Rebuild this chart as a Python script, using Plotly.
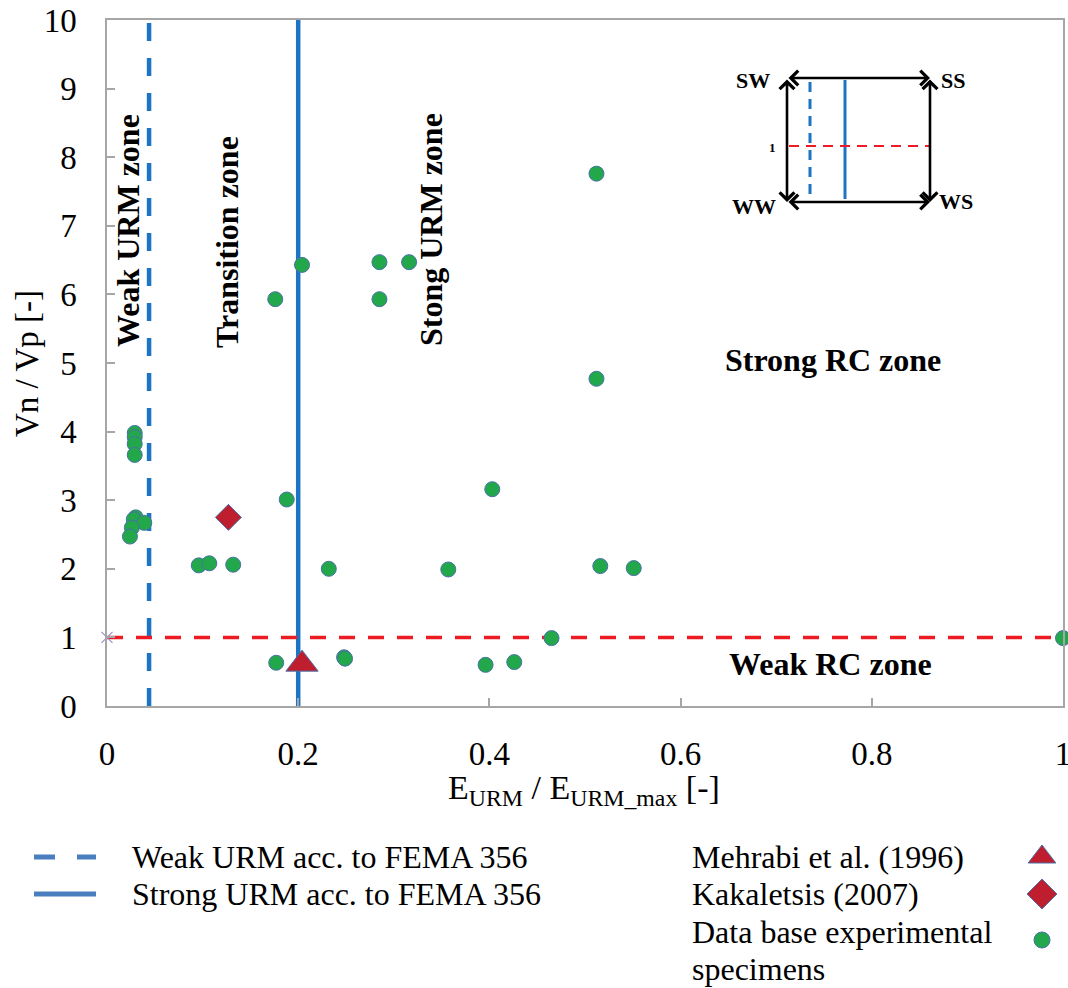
import plotly.graph_objects as go

W, H = 1068, 988
# plot area in pixels
PL, PR, PT, PB = 107, 1063, 20, 706

# ---------------- data ----------------
db_x = [0.029, 0.029, 0.029, 0.029, 0.030, 0.028, 0.039, 0.026, 0.024,
        0.096, 0.107, 0.132, 0.188, 0.177, 0.176, 0.204, 0.285, 0.285,
        0.316, 0.512, 0.512, 0.403, 0.232, 0.357, 0.516, 0.551, 0.465,
        0.248, 0.249, 0.396, 0.426, 1.000]
db_y = [3.98, 3.92, 3.82, 3.66, 2.75, 2.72, 2.67, 2.60, 2.47,
        2.05, 2.08, 2.06, 3.01, 0.63, 5.93, 6.43, 6.47, 5.93,
        6.47, 7.76, 4.77, 3.16, 2.00, 1.99, 2.04, 2.01, 0.99,
        0.71, 0.69, 0.60, 0.64, 0.99]
mehrabi_x = [0.204]
mehrabi_y = [0.61]
kakaletsis_x = [0.127]
kakaletsis_y = [2.75]
weak_urm_x = 0.044
strong_urm_x = 0.2
rc_ratio_y = 1.0
x_ticks = [0, 0.2, 0.4, 0.6, 0.8, 1]
x_tick_text = ["0", "0.2", "0.4", "0.6", "0.8", "1"]
y_ticks = list(range(0, 11))

SERIF = "Liberation Serif, Times New Roman, serif"
BLUE = "#1C75C4"
RED_DASH = "#ED1C24"
GREEN = "#22A84B"
DARKRED = "#BE1E2D"
OUTLINE = "#4A70A8"
AXIS_GRAY = "#A6A6A6"
LEG_BLUE = "#4A7EBF"

fig = go.Figure()

# reference lines
fig.add_trace(go.Scatter(x=[weak_urm_x, weak_urm_x], y=[0, 10], mode="lines",
                         line=dict(color=BLUE, width=4.5, dash="18px,17px"),
                         showlegend=False, hoverinfo="skip"))
fig.add_trace(go.Scatter(x=[strong_urm_x, strong_urm_x], y=[0, 10], mode="lines",
                         line=dict(color=BLUE, width=4.5),
                         showlegend=False, hoverinfo="skip"))
fig.add_trace(go.Scatter(x=[0, 1], y=[rc_ratio_y, rc_ratio_y], mode="lines",
                         line=dict(color=RED_DASH, width=3.5, dash="16px,13px"),
                         showlegend=False, hoverinfo="skip", cliponaxis=False))
fig.add_trace(go.Scatter(x=[0], y=[rc_ratio_y], mode="markers",
                         marker=dict(symbol="x-thin", size=11,
                                     line=dict(color="#9A8FC8", width=1.2)),
                         showlegend=False, cliponaxis=False))

# data
fig.add_trace(go.Scatter(x=db_x, y=db_y, mode="markers",
                         marker=dict(color=GREEN, size=15,
                                     line=dict(color=OUTLINE, width=1)),
                         name="Data base experimental specimens",
                         showlegend=False, cliponaxis=False))
fig.add_trace(go.Scatter(x=kakaletsis_x, y=kakaletsis_y, mode="markers",
                         marker=dict(color=DARKRED, size=20, symbol="diamond",
                                     line=dict(color=OUTLINE, width=1)),
                         name="Kakaletsis (2007)", showlegend=False))
fig.add_trace(go.Scatter(x=mehrabi_x, y=mehrabi_y, mode="markers",
                         marker=dict(color=DARKRED, size=28, symbol="triangle-up",
                                     line=dict(color=OUTLINE, width=1)),
                         name="Mehrabi et al. (1996)", showlegend=False,
                         cliponaxis=False))

# ---------- overlay pixel axes for legend + inset ----------
leg_marker_x = [1042, 1042, 1042]
leg_marker_y = [857, 894, 940]
fig.add_trace(go.Scatter(x=leg_marker_x[:1], y=leg_marker_y[:1], mode="markers",
                         xaxis="x2", yaxis="y2",
                         marker=dict(color=DARKRED, size=24, symbol="triangle-up",
                                     line=dict(color=OUTLINE, width=1)),
                         showlegend=False, hoverinfo="skip", cliponaxis=False))
fig.add_trace(go.Scatter(x=leg_marker_x[1:2], y=leg_marker_y[1:2], mode="markers",
                         xaxis="x2", yaxis="y2",
                         marker=dict(color=DARKRED, size=23, symbol="diamond",
                                     line=dict(color=OUTLINE, width=1)),
                         showlegend=False, hoverinfo="skip", cliponaxis=False))
fig.add_trace(go.Scatter(x=leg_marker_x[2:], y=leg_marker_y[2:], mode="markers",
                         xaxis="x2", yaxis="y2",
                         marker=dict(color=GREEN, size=16, symbol="circle",
                                     line=dict(color=OUTLINE, width=1)),
                         showlegend=False, hoverinfo="skip", cliponaxis=False))
# legend line samples
fig.add_trace(go.Scatter(x=[34, 96], y=[857, 857], mode="lines", xaxis="x2", yaxis="y2",
                         line=dict(color=LEG_BLUE, width=5, dash="21px,22px"),
                         showlegend=False, hoverinfo="skip"))
fig.add_trace(go.Scatter(x=[34, 96], y=[894, 894], mode="lines", xaxis="x2", yaxis="y2",
                         line=dict(color=LEG_BLUE, width=5),
                         showlegend=False, hoverinfo="skip"))

shapes = []
# inset lines
shapes.append(dict(type="line", xref="x2", yref="y2", x0=810, x1=810, y0=82, y1=199,
                   line=dict(color=BLUE, width=3, dash="10px,7px")))
shapes.append(dict(type="line", xref="x2", yref="y2", x0=845, x1=845, y0=80, y1=199,
                   line=dict(color=BLUE, width=3)))
shapes.append(dict(type="line", xref="x2", yref="y2", x0=789, x1=929, y0=146, y1=146,
                   line=dict(color=RED_DASH, width=2, dash="10px,7px")))

annotations = []
# inset arrows (double-headed)
for (x0, y0, x1, y1) in [(787, 78, 930, 78), (787, 202, 930, 202),
                         (787, 78, 787, 202), (930, 78, 930, 202)]:
    annotations.append(dict(xref="x2", yref="y2", axref="x2", ayref="y2",
                            x=x1, y=y1, ax=x0, ay=y0, text="", showarrow=True,
                            arrowhead=4, startarrowhead=4, arrowside="end+start",
                            arrowwidth=2.6, arrowsize=1.1, startarrowsize=1.1,
                            arrowcolor="black", standoff=0, startstandoff=0))
for txt, x, y in [("SW", 753, 80), ("SS", 953, 80), ("WW", 754, 206), ("WS", 956, 201)]:
    annotations.append(dict(xref="x2", yref="y2", x=x, y=y, text="<b>" + txt + "</b>",
                            showarrow=False, font=dict(family=SERIF, size=22, color="black")))
annotations.append(dict(xref="x2", yref="y2", x=772, y=147, text="<b>1</b>", showarrow=False,
                        font=dict(family=SERIF, size=13, color="black")))

# zone labels
for txt, x, y, ang in [("Weak URM zone", 128, 231, -90), ("Transition zone", 227, 242, -90),
                       ("Stong URM zone", 431, 230, -90), ("Strong RC zone", 833, 360, 0),
                       ("Weak RC zone", 830, 664, 0)]:
    annotations.append(dict(xref="x2", yref="y2", x=x, y=y, text="<b>" + txt + "</b>",
                            textangle=ang, showarrow=False,
                            font=dict(family=SERIF, size=32, color="black")))

# axis titles
annotations.append(dict(xref="x2", yref="y2", x=27, y=364, text="Vn / Vp [-]", textangle=-90,
                        showarrow=False, font=dict(family=SERIF, size=33, color="black")))
annotations.append(dict(xref="x2", yref="y2", x=584, y=790,
                        text="E<sub>URM</sub> / E<sub>URM_max</sub> [-]",
                        showarrow=False, font=dict(family=SERIF, size=34, color="black")))

# legend texts
for txt, x, y in [("Weak URM acc. to FEMA 356", 130, 857),
                  ("Strong URM acc. to FEMA 356", 130, 894),
                  ("Mehrabi et al. (1996)", 690, 857),
                  ("Kakaletsis (2007)", 690, 894),
                  ("Data base experimental", 690, 932),
                  ("specimens", 690, 969)]:
    annotations.append(dict(xref="x2", yref="y2", x=x, y=y, text=txt, xanchor="left",
                            showarrow=False, font=dict(family=SERIF, size=32, color="black")))

fig.update_layout(
    width=W, height=H,
    margin=dict(l=0, r=0, t=0, b=0, pad=0, autoexpand=False),
    paper_bgcolor="white", plot_bgcolor="rgba(0,0,0,0)",
    showlegend=False,
    font=dict(family=SERIF, size=33, color="black"),
    xaxis=dict(domain=[PL / W, PR / W], range=[0, 1], tickvals=x_ticks, ticktext=x_tick_text,
               ticks="inside", ticklen=8, tickcolor=AXIS_GRAY, tickwidth=1.5,
               showline=True, linecolor=AXIS_GRAY, linewidth=1.5, mirror=True,
               showgrid=False, zeroline=False, ticklabelstandoff=18,
               ticklabeloverflow="allow", automargin=False,
               tickfont=dict(family=SERIF, size=33, color="black"), anchor="y"),
    yaxis=dict(domain=[(H - PB) / H, (H - PT) / H], range=[0, 10], tickvals=y_ticks,
               ticks="inside", ticklen=8, tickcolor=AXIS_GRAY, tickwidth=1.5,
               showline=True, linecolor=AXIS_GRAY, linewidth=1.5, mirror=True,
               showgrid=False, zeroline=False, ticklabelstandoff=22,
               ticklabeloverflow="allow", automargin=False,
               tickfont=dict(family=SERIF, size=33, color="black"), anchor="x"),
    xaxis2=dict(domain=[0, 1], range=[0, W], visible=False, anchor="y2", fixedrange=True,
                automargin=False),
    yaxis2=dict(domain=[0, 1], range=[H, 0], visible=False, anchor="x2", fixedrange=True,
                automargin=False),
    shapes=shapes,
    annotations=annotations,
)

fig.write_html("out.html")
